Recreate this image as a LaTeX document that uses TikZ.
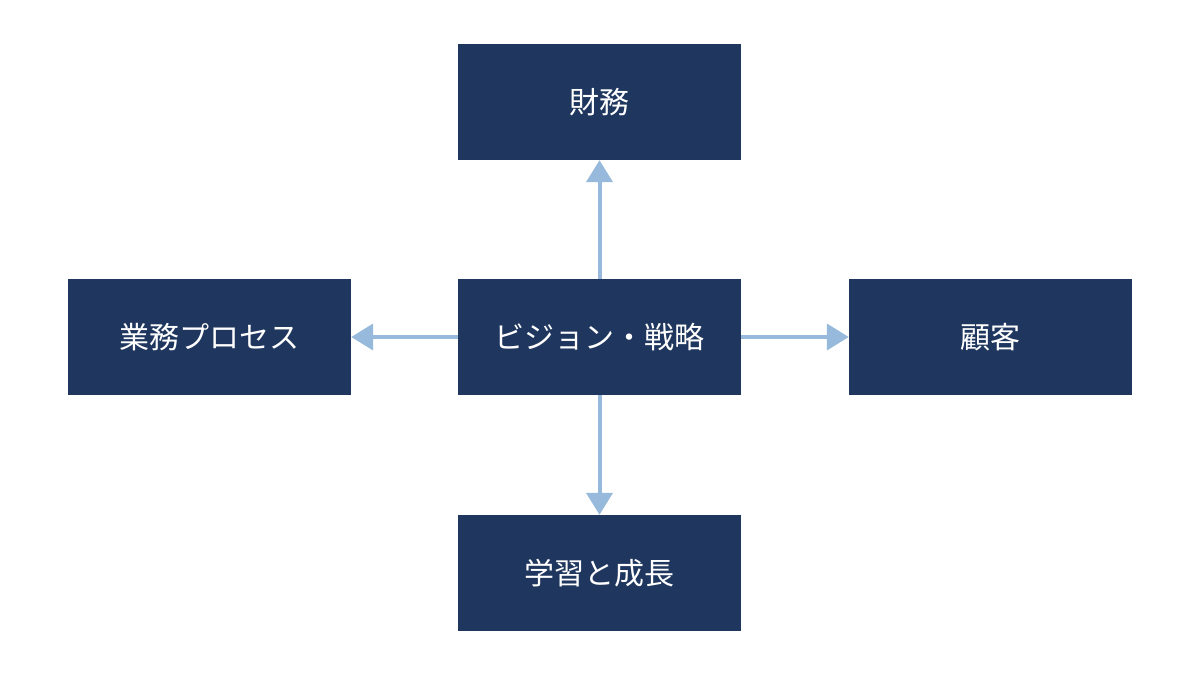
\documentclass[tikz,border=0pt]{standalone}
\usepackage{fontspec}
\newfontfamily\cjk{Noto Sans CJK JP}
\usetikzlibrary{arrows.meta}
\definecolor{navy}{HTML}{1F375F}
\definecolor{arr}{HTML}{96B9DC}
\begin{document}
\begin{tikzpicture}[x=1pt,y=-1pt,
  box/.style={fill=navy,draw=none,minimum width=283pt,minimum height=116pt,inner sep=0pt,text=white,font=\cjk\fontsize{30}{36}\selectfont},
  con/.style={draw=arr,line width=4pt,-{Triangle[length=22pt,width=26pt]}}]
\useasboundingbox[fill=white] (0,0) rectangle (1200,675);
\node[box] (c) at (599.5,337) {ビジョン・戦略};
\node[box] (t) at (599.5,102) {財務};
\node[box] (b) at (599.5,573) {学習と成長};
\node[box] (l) at (209.5,337) {業務プロセス};
\node[box] (r) at (990.5,337) {顧客};
\draw[con] (c) -- (t);
\draw[con] (c) -- (b);
\draw[con] (c) -- (l);
\draw[con] (c) -- (r);
\end{tikzpicture}
\end{document}
